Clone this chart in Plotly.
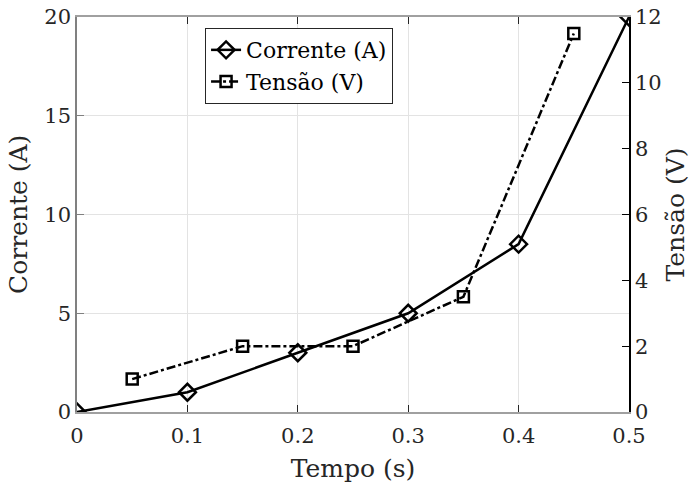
import plotly.graph_objects as go

# Time samples and measured values
tempo_corrente = [0.0, 0.1, 0.2, 0.3, 0.4, 0.5]
corrente = [0.0, 1.0, 3.0, 5.0, 8.5, 20.0]

tempo_tensao = [0.05, 0.15, 0.25, 0.35, 0.45]
tensao = [1.0, 2.0, 2.0, 3.5, 11.5]

x_ticks = [0, 0.1, 0.2, 0.3, 0.4, 0.5]
x_tick_labels = ["0", "0.1", "0.2", "0.3", "0.4", "0.5"]
y_left_ticks = [0, 5, 10, 15, 20]
y_right_ticks = [0, 2, 4, 6, 8, 10, 12]

FONT = "DejaVu Serif"
TICK_SIZE = 21
TITLE_SIZE = 25

fig = go.Figure()
fig.add_trace(go.Scatter(
    x=tempo_corrente, y=corrente, name="Corrente (A)",
    mode="lines+markers",
    line=dict(color="black", width=2.5),
    marker=dict(symbol="diamond-open", size=13, color="black",
                line=dict(width=2.5, color="black")),
    yaxis="y",
))
fig.add_trace(go.Scatter(
    x=tempo_tensao, y=tensao, name="Tensão (V)",
    mode="lines+markers",
    line=dict(color="black", width=2.5, dash="dashdot"),
    marker=dict(symbol="square-open", size=11, color="black",
                line=dict(width=2.5, color="black")),
    yaxis="y2",
))

# Vertical axis titles placed as rotated annotations beside each axis
fig.add_annotation(
    text="Corrente (A)", textangle=-90, showarrow=False,
    xref="paper", yref="paper", x=-0.106, y=0.5,
    xanchor="center", yanchor="middle",
    font=dict(family=FONT, size=TITLE_SIZE, color="#262626"),
)
fig.add_annotation(
    text="Tensão (V)", textangle=-90, showarrow=False,
    xref="paper", yref="paper", x=1.085, y=0.5,
    xanchor="center", yanchor="middle",
    font=dict(family=FONT, size=TITLE_SIZE, color="#262626"),
)

fig.update_layout(
    width=690, height=483,
    margin=dict(l=77, r=61, t=17, b=71),
    paper_bgcolor="white", plot_bgcolor="white",
    font=dict(family=FONT, size=TICK_SIZE, color="#262626"),
    showlegend=True,
    legend=dict(
        x=0.232, y=0.972, xanchor="left", yanchor="top",
        bgcolor="white", bordercolor="#262626", borderwidth=1,
        font=dict(family=FONT, size=22, color="black"),
        itemwidth=30, tracegroupgap=0,
    ),
    xaxis=dict(
        range=[0, 0.5], tickvals=x_ticks, ticktext=x_tick_labels,
        automargin=False,
        showgrid=True, gridcolor="#e3e3e3", gridwidth=1,
        showline=True, linecolor="#a0a0a0", linewidth=1.5, mirror="ticks",
        ticks="inside", ticklen=7, tickcolor="#262626",
        ticklabelstandoff=4,
        zeroline=False,
        title=dict(text="Tempo (s)", font=dict(family=FONT, size=TITLE_SIZE)),
        tickfont=dict(family=FONT, size=TICK_SIZE, color="#262626"),
    ),
    yaxis=dict(
        range=[0, 20], tickvals=y_left_ticks,
        automargin=False,
        showgrid=True, gridcolor="#e3e3e3", gridwidth=1,
        showline=True, linecolor="#808080", linewidth=1.5,
        ticks="inside", ticklen=7, tickcolor="#808080",
        zeroline=False,
        tickfont=dict(family=FONT, size=TICK_SIZE, color="#262626"),
    ),
    yaxis2=dict(
        range=[0, 12], tickvals=y_right_ticks,
        overlaying="y", side="right", anchor="x",
        automargin=False,
        showgrid=False, zeroline=False,
        showline=True, linecolor="black", linewidth=1.5,
        ticks="inside", ticklen=7, tickcolor="black",
        tickfont=dict(family=FONT, size=TICK_SIZE, color="#262626"),
    ),
)

fig.write_html("out.html")
